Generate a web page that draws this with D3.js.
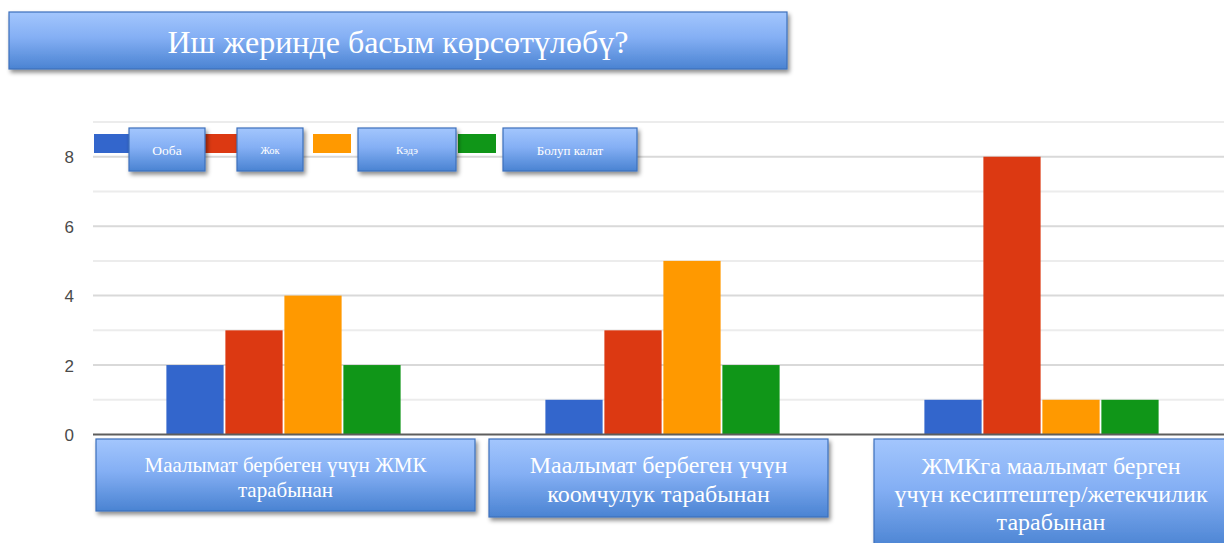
<!DOCTYPE html>
<html>
<head>
<meta charset="utf-8">
<script src="https://cdn.jsdelivr.net/npm/d3@7"></script>
<style>
  html, body { margin: 0; padding: 0; background: #fff; }
  svg { display: block; }
</style>
</head>
<body>
<svg id="chart" width="1224" height="543"></svg>
<script>
// Data
const title = "Иш жеринде басым көрсөтүлөбү?";
const categories = [
  "Маалымат бербеген үчүн ЖМК тарабынан",
  "Маалымат бербеген үчүн коомчулук тарабынан",
  "ЖМКга маалымат берген үчүн кесиптештер/жетекчилик тарабынан"
];
const categoryLines = [
  ["Маалымат бербеген үчүн ЖМК", "тарабынан"],
  ["Маалымат бербеген үчүн", "коомчулук тарабынан"],
  ["ЖМКга маалымат берген", "үчүн кесиптештер/жетекчилик", "тарабынан"]
];
const seriesNames = ["Ооба", "Жок", "Кэдэ", "Болуп калат"];
const seriesColors = ["#3366cc", "#dc3912", "#ff9900", "#109618"];
const oobaValues = [2, 1, 1];
const jokValues = [3, 3, 8];
const kedeValues = [4, 5, 1];
const bolupKalatValues = [2, 2, 1];
const yTicks = [0, 2, 4, 6, 8];
const yMax = 9;

const seriesValues = [oobaValues, jokValues, kedeValues, bolupKalatValues];

const svg = d3.select("#chart");
const defs = svg.append("defs");

// Blue gradient used by the title, legend and category label boxes
const grad = defs.append("linearGradient")
  .attr("id", "boxGrad").attr("x1", 0).attr("y1", 0).attr("x2", 0).attr("y2", 1);
grad.append("stop").attr("offset", "0%").attr("stop-color", "#a3c6fd");
grad.append("stop").attr("offset", "45%").attr("stop-color", "#84aff4");
grad.append("stop").attr("offset", "100%").attr("stop-color", "#4a83d2");

const shadow = defs.append("filter").attr("id", "shadow")
  .attr("x", "-10%").attr("y", "-20%").attr("width", "130%").attr("height", "160%");
shadow.append("feDropShadow")
  .attr("dx", 2).attr("dy", 3).attr("stdDeviation", 2.2)
  .attr("flood-color", "#000").attr("flood-opacity", 0.45);

function blueBox(g, x, y, w, h) {
  return g.append("rect")
    .attr("x", x).attr("y", y).attr("width", w).attr("height", h)
    .attr("fill", "url(#boxGrad)")
    .attr("stroke", "#3d70bb").attr("stroke-width", 1.2)
    .attr("filter", "url(#shadow)");
}

// Scales
const x0 = d3.scaleBand()
  .domain(categories)
  .range([94, 1231])
  .paddingInner(0.382)
  .paddingOuter(0.191);
const x1 = d3.scaleBand()
  .domain(seriesNames)
  .range([0, x0.bandwidth()])
  .paddingInner(0.03);
const y = d3.scaleLinear().domain([0, yMax]).range([434.5, 122]);

// Gridlines (every unit, labelled every second)
const gridG = svg.append("g");
gridG.selectAll("line")
  .data(d3.range(1, yMax + 1))
  .join("line")
  .attr("x1", 93).attr("x2", 1224)
  .attr("y1", d => y(d)).attr("y2", d => y(d))
  .attr("stroke", d => (d % 2 === 0 ? "#d9d9d9" : "#ececec"))
  .attr("stroke-width", 2);

// Y axis labels
const yAxis = d3.axisLeft(y).tickValues(yTicks).tickSize(0).tickPadding(0);
const yAxisG = svg.append("g").attr("transform", "translate(74,0)").call(yAxis);
yAxisG.select(".domain").remove();
yAxisG.selectAll("text")
  .attr("font-family", "'Liberation Sans', Arial, sans-serif")
  .attr("font-size", 17)
  .attr("fill", "#4a4a4a")
  .attr("dy", "0.35em");

// Bars
const groups = svg.append("g").selectAll("g")
  .data(categories)
  .join("g")
  .attr("transform", d => `translate(${x0(d)},0)`);
groups.selectAll("rect")
  .data((c, ci) => seriesNames.map((s, si) => ({ s, si, v: seriesValues[si][ci] })))
  .join("rect")
  .attr("x", d => x1(d.s))
  .attr("width", x1.bandwidth())
  .attr("y", d => y(d.v))
  .attr("height", d => y(0) - y(d.v))
  .attr("fill", d => seriesColors[d.si]);

// Baseline
svg.append("line")
  .attr("x1", 93).attr("x2", 1224)
  .attr("y1", y(0)).attr("y2", y(0))
  .attr("stroke", "#5e5e5e").attr("stroke-width", 2.2);

// Legend: colour swatches with labelled boxes
const legend = svg.append("g");
const swatchX = [94, 204, 313, 458];
const legendBoxes = [[129, 76, 13.5], [237, 66, 10.5], [358, 98, 11], [503, 134, 13]];
seriesNames.forEach((name, i) => {
  legend.append("rect")
    .attr("x", swatchX[i]).attr("y", 134).attr("width", 38).attr("height", 19)
    .attr("fill", seriesColors[i]);
});
seriesNames.forEach((name, i) => {
  const [bx, bw, fs] = legendBoxes[i];
  blueBox(legend, bx, 128, bw, 43);
  legend.append("text")
    .attr("x", bx + bw / 2).attr("y", 150)
    .attr("dy", "0.35em")
    .attr("text-anchor", "middle")
    .attr("font-family", "'Liberation Serif', 'Times New Roman', serif")
    .attr("font-size", fs)
    .attr("fill", "#fff")
    .text(name);
});

// Category label boxes under the axis
const labelBoxes = [
  { x: 96, y: 439, w: 379, h: 72, fs: 21, base: 472, lh: 25 },
  { x: 489, y: 439, w: 339, h: 78, fs: 24, base: 473, lh: 29 },
  { x: 874, y: 439, w: 360, h: 110, fs: 24, base: 474, lh: 28 }
];
const labelG = svg.append("g");
categories.forEach((c, i) => {
  const b = labelBoxes[i];
  blueBox(labelG, b.x, b.y, b.w, b.h);
  const cx = i === 2 ? 1051 : b.x + b.w / 2;
  const t = labelG.append("text")
    .attr("text-anchor", "middle")
    .attr("font-family", "'Liberation Serif', 'Times New Roman', serif")
    .attr("font-size", b.fs)
    .attr("fill", "#fff");
  categoryLines[i].forEach((line, li) => {
    t.append("tspan").attr("x", cx).attr("y", b.base + li * b.lh).text(line);
  });
});

// Title box
const titleG = svg.append("g");
blueBox(titleG, 9, 12, 778, 57);
titleG.append("text")
  .attr("x", 398).attr("y", 53)
  .attr("text-anchor", "middle")
  .attr("font-family", "'Liberation Serif', 'Times New Roman', serif")
  .attr("font-size", 32)
  .attr("fill", "#fff")
  .text(title);
</script>
</body>
</html>
